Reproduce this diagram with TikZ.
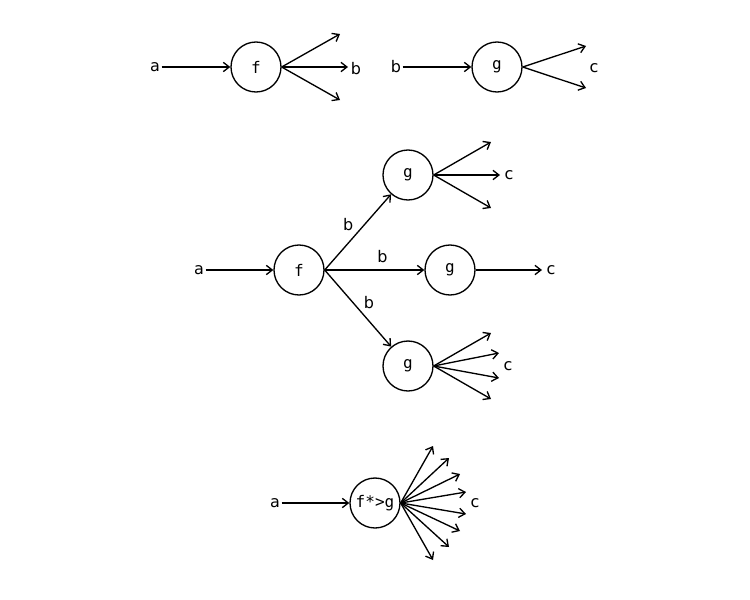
\documentclass[tikz,border=0pt]{standalone}
\usepackage{fontspec}
\setmainfont{DejaVu Sans}
\newfontfamily\monofont{DejaVu Sans Mono}
\usetikzlibrary{arrows.meta,positioning}

\tikzset{
  fn/.style={circle, draw, line width=1pt, minimum size=37.5pt, inner sep=0pt, font=\monofont\fontsize{12}{14}\selectfont},
  lbl/.style={inner sep=1pt, font=\fontsize{12}{14}\selectfont},
  flow/.style={line width=1pt, -{Straight Barb[length=4.5pt,width=7pt,line width=1pt]}}
}

\begin{document}
\begin{tikzpicture}[x=0.75pt,y=-0.75pt]
  \useasboundingbox (0,0) rectangle (750,600);

  % top row: f and g on their own
  \node[lbl] (a1) at (155,67) {a};
  \node[fn] (f1) at (256,67) {f};
  \node[lbl] (b1) at (356,69) {b};
  \draw[flow] (a1) -- (f1);
  \foreach \x/\y [count=\i] in {340/34, 348/67, 340/100}
    \coordinate (f1o\i) at (\x,\y);
  \foreach \i in {1,2,3}
    \draw[flow] (f1.east) -- (f1o\i);

  \node[lbl] (b2) at (396,67) {b};
  \node[fn] (g1) at (497,67) {g};
  \node[lbl] (c1) at (594,68) {c};
  \draw[flow] (b2) -- (g1);
  \coordinate (g1o1) at (586,46);
  \coordinate (g1o2) at (586,88);
  \draw[flow] (g1.east) -- (g1o1);
  \draw[flow] (g1.east) -- (g1o2);

  % middle: f feeding three g's
  \node[lbl] (a2) at (199,270) {a};
  \node[fn] (f2) at (299,270) {f};
  \node[fn] (gu) at (408,175) {g};
  \node[fn] (gm) at (450,270) {g};
  \node[fn] (gd) at (408,366) {g};
  \draw[flow] (a2) -- (f2);
  \draw[flow] (f2.east) -- node[lbl, pos=0.6, left=7pt] {b} (gu);
  \draw[flow] (f2.east) -- node[lbl, pos=0.58, above=4pt] {b} (gm);
  \draw[flow] (f2.east) -- node[lbl, pos=0.42, right=7pt] {b} (gd);

  \node[lbl] (cu) at (509,175) {c};
  \foreach \x/\y [count=\i] in {491/142, 500/175, 491/208}
    \draw[flow] (gu.east) -- (\x,\y) coordinate (guo\i);

  \node[lbl] (cm) at (551,270) {c};
  \coordinate (gmo) at (542,270);
  \draw[flow] (gm) -- (gmo);

  \node[lbl] (cd) at (508,366) {c};
  \foreach \x/\y [count=\i] in {491/333, 499/353, 499/378, 491/399}
    \draw[flow] (gd.east) -- (\x,\y) coordinate (gdo\i);

  % bottom: composed
  \node[lbl] (a3) at (275,503) {a};
  \node[fn] (fg) at (375,503) {f*>g};
  \node[lbl] (c3) at (475,503) {c};
  \draw[flow] (a3) -- (fg);
  \foreach \x/\y [count=\i] in {433/446, 449/458, 460/474, 466/492, 466/514, 460/531, 449/547, 433/560}
    \draw[flow] (fg.east) -- (\x,\y) coordinate (fgo\i);
\end{tikzpicture}
\end{document}
